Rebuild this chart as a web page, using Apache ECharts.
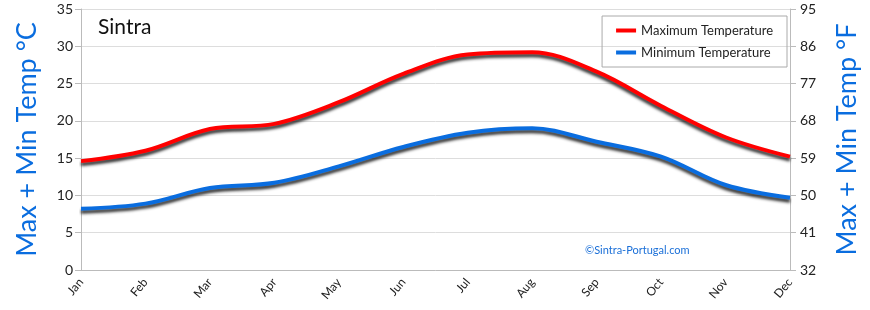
<!DOCTYPE html>
<html><head><meta charset="utf-8">
<script src="https://cdn.jsdelivr.net/npm/echarts@6/dist/echarts.min.js"></script>
<style>html,body{margin:0;padding:0;background:#fff}#c{width:870px;height:310px}</style>
</head><body><div id="c"></div>
<script>
const months = ['Jan','Feb','Mar','Apr','May','Jun','Jul','Aug','Sep','Oct','Nov','Dec'];
const maxTemp = [14.6, 16.0, 18.9, 19.6, 22.5, 26.3, 28.9, 29.2, 26.6, 22.0, 17.8, 15.2];
const minTemp = [8.2, 8.9, 11.0, 11.7, 13.9, 16.5, 18.4, 19.0, 17.2, 15.2, 11.4, 9.7];
const font = 'Lato';
const chart = echarts.init(document.getElementById('c'));
const lineShadow = {shadowColor:'rgba(0,0,0,0.8)', shadowBlur:3, shadowOffsetY:3, shadowOffsetX:0};
chart.setOption({
  animation:false,
  title:{text:'Sintra', left:93, top:12, textStyle:{fontFamily:font, fontSize:21, fontWeight:'normal', color:'#111'}},
  legend:{orient:'vertical', right:83, top:16, padding:[8,14,8,14], itemGap:9, borderColor:'#aaa', borderWidth:1,
    itemWidth:20, itemHeight:4, icon:'rect',
    textStyle:{fontFamily:font, fontSize:13, color:'#222'}},
  grid:{left:81, right:80, top:9, bottom:40},
  xAxis:{type:'category', data:months, boundaryGap:false,
    axisLine:{lineStyle:{color:'#bbb'}}, axisTick:{show:false},
    axisLabel:{rotate:50, fontFamily:font, fontSize:12, color:'#222', margin:10}},
  yAxis:[
    {type:'value', min:0, max:35, interval:5, position:'left',
     name:'Max + Min Temp °C', nameLocation:'middle', nameGap:40, nameRotate:90,
     nameTextStyle:{fontFamily:font, fontSize:27, color:'#0a6ddf'},
     axisLine:{show:true, lineStyle:{color:'#bbb'}}, axisTick:{show:true, length:6, lineStyle:{color:'#bbb'}},
     axisLabel:{fontFamily:font, fontSize:14, color:'#222', margin:8},
     splitLine:{lineStyle:{color:'#ddd'}}},
    {type:'value', min:0, max:35, interval:5, position:'right',
     name:'Max + Min Temp °F', nameLocation:'middle', nameGap:44, nameRotate:90,
     nameTextStyle:{fontFamily:font, fontSize:27, color:'#0a6ddf'},
     axisLine:{show:true, lineStyle:{color:'#bbb'}}, axisTick:{show:true, length:6, lineStyle:{color:'#bbb'}},
     axisLabel:{fontFamily:font, fontSize:14, color:'#222', margin:10, formatter:v=>String(Math.round(32+v*9/5))},
     splitLine:{show:false}}
  ],
  series:[
    {name:'Maximum Temperature', type:'line', data:maxTemp, smooth:0.35, showSymbol:false, symbol:'none',
     color:'#ff0000', lineStyle:Object.assign({width:4, color:'#ff0000'}, lineShadow)},
    {name:'Minimum Temperature', type:'line', data:minTemp, smooth:0.35, showSymbol:false, symbol:'none',
     color:'#0a6ddf', lineStyle:Object.assign({width:4, color:'#0a6ddf'}, lineShadow)}
  ],
  graphic:[{type:'text', left:585, top:245, style:{text:'©Sintra-Portugal.com', fontFamily:font, fontSize:11, fill:'#1a6fd8'}}]
});
</script></body></html>
